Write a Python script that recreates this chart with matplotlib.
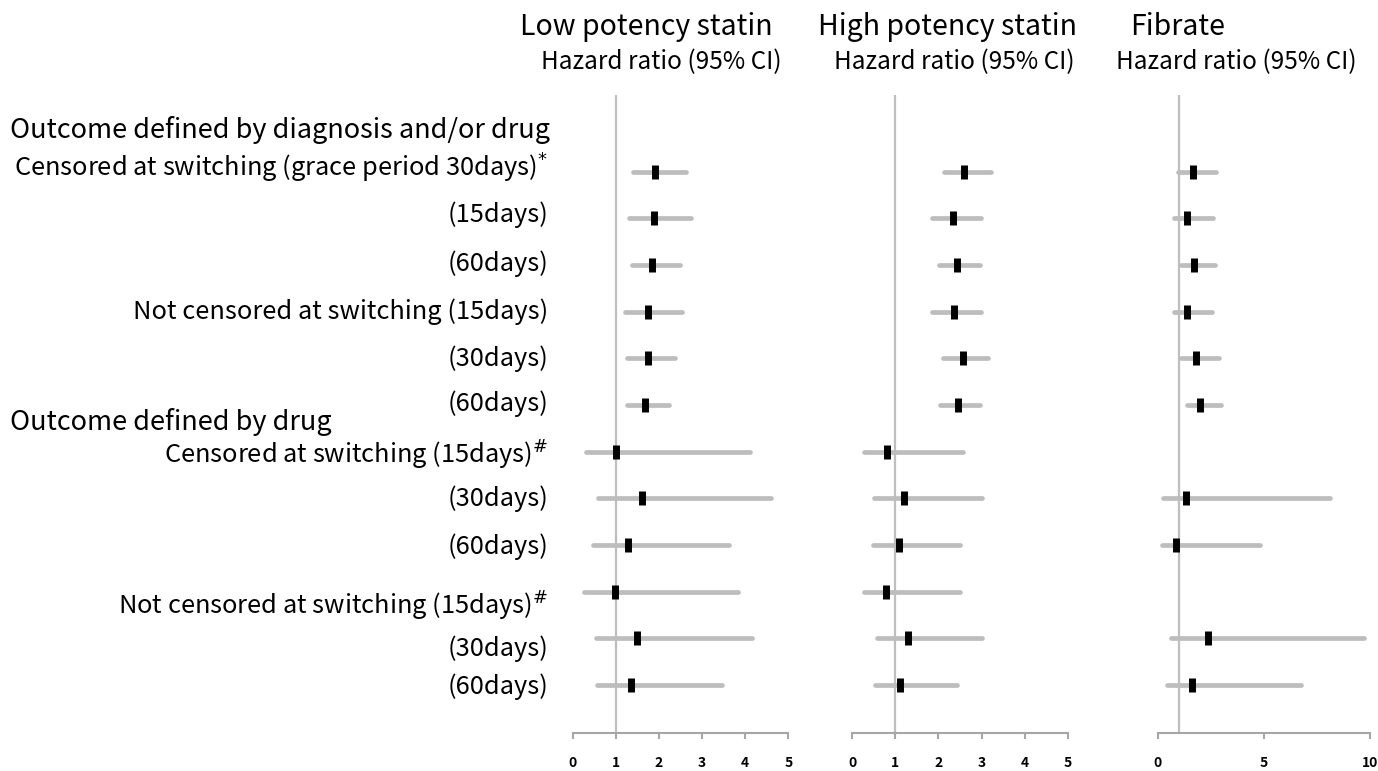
import numpy as np
import matplotlib.pyplot as plt

plt.rcParams['font.family'] = ['Noto Sans CJK JP', 'DejaVu Sans']

nan = np.nan

# row labels (top to bottom)
row_labels = ['Censored at switching (grace period 30days)$^{*}$', '(15days)', '(60days)',
              'Not censored at switching (15days)', '(30days)', '(60days)',
              r'Censored at switching (15days)$^{\#}$', '(30days)', '(60days)',
              r'Not censored at switching (15days)$^{\#}$', '(30days)', '(60days)']
sections = ['Outcome defined by diagnosis and/or drug', 'Outcome defined by drug']
panels = ['Low potency statin', 'High potency statin', 'Fibrate']

# hazard ratios and 95% CI
low_hr = [1.91, 1.88, 1.84, 1.74, 1.74, 1.68, 1.01, 1.61, 1.28, 0.98, 1.48, 1.36]
low_lo = [1.39, 1.31, 1.38, 1.21, 1.27, 1.27, 0.30, 0.58, 0.46, 0.27, 0.55, 0.56]
low_hi = [2.63, 2.74, 2.48, 2.53, 2.38, 2.24, 4.11, 4.59, 3.63, 3.83, 4.16, 3.46]

high_hr = [2.59, 2.34, 2.42, 2.35, 2.56, 2.45, 0.80, 1.21, 1.08, 0.78, 1.29, 1.11]
high_lo = [2.13, 1.84, 2.01, 1.86, 2.11, 2.04, 0.26, 0.51, 0.49, 0.26, 0.57, 0.53]
high_hi = [3.21, 2.98, 2.96, 2.99, 3.16, 2.96, 2.58, 3.00, 2.49, 2.49, 3.00, 2.42]

fib_hr = [1.65, 1.38, 1.72, 1.38, 1.80, 2.01, nan, 1.33, 0.86, nan, 2.37, 1.60]
fib_lo = [0.95, 0.77, 1.12, 0.78, 1.12, 1.38, nan, 0.26, 0.20, nan, 0.63, 0.42]
fib_hi = [2.76, 2.62, 2.72, 2.54, 2.87, 3.00, nan, 8.10, 4.82, nan, 9.70, 6.75]

W, H = 1378, 771
fig = plt.figure(figsize=(W / 100, H / 100), dpi=100)

def fx(px):
    return px / W

def fy(py):
    return 1 - py / H

ax_left = [572.7, 852.3, 1157.7]
ax_right = [788.3, 1067.7, 1370.0]
xmax = [5, 5, 10]
xticks = [[0, 1, 2, 3, 4, 5], [0, 1, 2, 3, 4, 5], [0, 5, 10]]
data = [(low_hr, low_lo, low_hi), (high_hr, high_lo, high_hi), (fib_hr, fib_lo, fib_hi)]

top_px, bot_px = 95, 732.7
row0_px, step_px = 171.7, 46.67
y_top = (top_px - row0_px) / step_px
y_bot = (bot_px - row0_px) / step_px
ypos = np.arange(len(row_labels))

for i in range(3):
    ax = fig.add_axes([fx(ax_left[i]), fy(bot_px), fx(ax_right[i] - ax_left[i]),
                       (bot_px - top_px) / H])
    hr, lo, hi = data[i]
    ax.axvline(1, color='#BEBEBE', lw=1.6, zorder=1)
    for y, a, b in zip(ypos, lo, hi):
        if np.isnan(a):
            continue
        ax.plot([a, b], [y, y], color='#BDBDBD', lw=3.4, solid_capstyle='round', zorder=2)
    ax.plot(hr, ypos, ls='none', marker='|', ms=9.5, mew=5, color='black', zorder=3)
    ax.set_xlim(0, xmax[i])
    ax.set_ylim(y_bot, y_top)
    ax.set_xticks(xticks[i])
    ax.set_yticks([])
    for s in ['top', 'left', 'right']:
        ax.spines[s].set_visible(False)
    ax.spines['bottom'].set_color('#A6A6A6')
    ax.spines['bottom'].set_linewidth(1.5)
    ax.tick_params(axis='x', direction='out', length=4.5, width=1.5, color='#A6A6A6',
                   pad=12, labelsize=10)
    for t in ax.get_xticklabels():
        t.set_fontweight('bold')

# panel headers
fig.text(fx(646), fy(27), panels[0], ha='center', va='center', fontsize=20.5)
fig.text(fx(947), fy(27), panels[1], ha='center', va='center', fontsize=20.5)
fig.text(fx(1178), fy(27), panels[2], ha='center', va='center', fontsize=20.5)
for xr in [782, 1075, 1357]:
    fig.text(fx(xr), fy(62), 'Hazard ratio (95% CI)', ha='right', va='center', fontsize=17.5)

# section headers
fig.text(fx(10), fy(130), sections[0], ha='left', va='center', fontsize=19.5)
fig.text(fx(10), fy(422), sections[1], ha='left', va='center', fontsize=19.5)

# row labels
label_y = [168, 215, 264, 312, 359, 404, 455, 499, 547, 606, 649, 687]
for lab, yy in zip(row_labels, label_y):
    fig.text(fx(548), fy(yy), lab, ha='right', va='center', fontsize=18.3)

fig.savefig('out.png', dpi=100, facecolor='white')
